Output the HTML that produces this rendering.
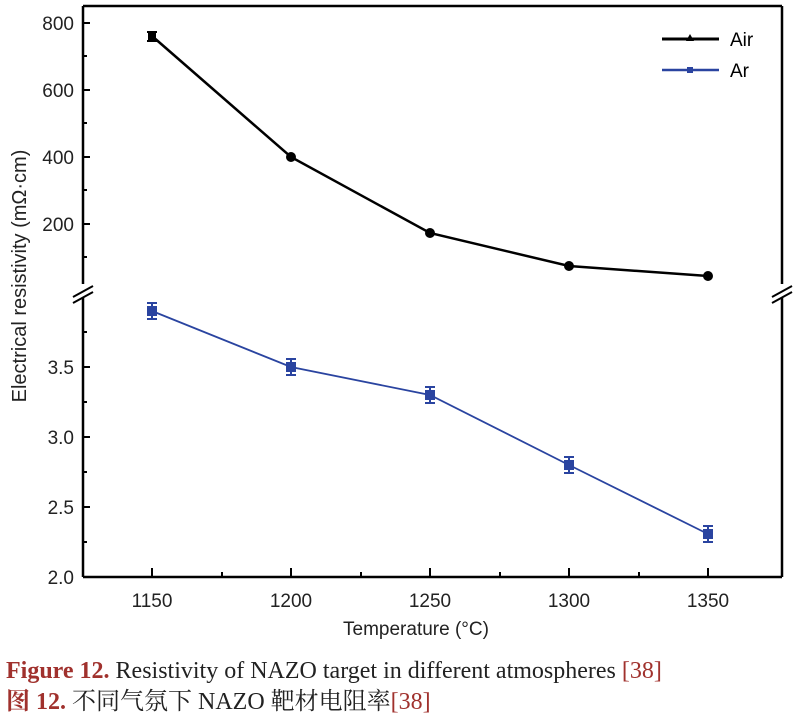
<!DOCTYPE html>
<html><head><meta charset="utf-8"><style>
html,body{margin:0;padding:0;background:#fff;width:795px;height:722px;overflow:hidden}
.cap{position:absolute;left:6px;font-family:"Liberation Serif","Noto Serif CJK SC",serif;font-size:24px;line-height:28px;white-space:nowrap}
</style></head><body>
<svg width="795" height="722" style="position:absolute;left:0;top:0" font-family="Liberation Sans, sans-serif">
<g stroke="#000" stroke-width="2.5" fill="none">
<line x1="83" y1="6" x2="83" y2="284"/><line x1="83" y1="298" x2="83" y2="577"/>
<line x1="83" y1="577" x2="782" y2="577"/>
<line x1="782" y1="6" x2="782" y2="284"/><line x1="782" y1="298" x2="782" y2="577"/>
<line x1="83" y1="6" x2="782" y2="6"/>
</g>
<g stroke="#000" stroke-width="2">
<line x1="73" y1="297" x2="93" y2="286"/><line x1="73" y1="303" x2="93" y2="292"/>
<line x1="772" y1="297" x2="792" y2="286"/><line x1="772" y1="303" x2="792" y2="292"/>
</g>
<g stroke="#000" stroke-width="2">
<line x1="83" y1="23" x2="90" y2="23"/><line x1="83" y1="90" x2="90" y2="90"/><line x1="83" y1="157" x2="90" y2="157"/><line x1="83" y1="224" x2="90" y2="224"/>
<line x1="83" y1="56" x2="87" y2="56"/><line x1="83" y1="123" x2="87" y2="123"/><line x1="83" y1="190" x2="87" y2="190"/><line x1="83" y1="257" x2="87" y2="257"/>
<line x1="83" y1="367" x2="90" y2="367"/><line x1="83" y1="437" x2="90" y2="437"/><line x1="83" y1="507" x2="90" y2="507"/>
<line x1="83" y1="332" x2="87" y2="332"/><line x1="83" y1="402" x2="87" y2="402"/><line x1="83" y1="472" x2="87" y2="472"/><line x1="83" y1="542" x2="87" y2="542"/>
<line x1="152" y1="577" x2="152" y2="568"/><line x1="291" y1="577" x2="291" y2="568"/><line x1="430" y1="577" x2="430" y2="568"/><line x1="569" y1="577" x2="569" y2="568"/><line x1="708" y1="577" x2="708" y2="568"/>
<line x1="222" y1="577" x2="222" y2="572"/><line x1="361" y1="577" x2="361" y2="572"/><line x1="500" y1="577" x2="500" y2="572"/><line x1="639" y1="577" x2="639" y2="572"/>
</g>
<g font-size="19" fill="#222" text-anchor="end">
<text x="74" y="30">800</text><text x="74" y="97">600</text><text x="74" y="164">400</text><text x="74" y="231">200</text>
<text x="74" y="374">3.5</text><text x="74" y="444">3.0</text><text x="74" y="514">2.5</text><text x="74" y="584">2.0</text>
</g>
<g font-size="19" fill="#222" text-anchor="middle">
<text x="152" y="607">1150</text><text x="291" y="607">1200</text><text x="430" y="607">1250</text><text x="569" y="607">1300</text><text x="708" y="607">1350</text>
<text x="416" y="635">Temperature (°C)</text>
</g>
<text transform="translate(26,276) rotate(-90)" font-size="20" fill="#222" text-anchor="middle">Electrical resistivity (mΩ·cm)</text>
<polyline points="152,36 291,157 430,233 569,266 708,276" fill="none" stroke="#000" stroke-width="2.5"/>
<g fill="#000" stroke="#000" stroke-width="2">
<rect x="149" y="34" width="6" height="5"/><line x1="147" y1="32" x2="157" y2="32"/><line x1="147" y1="41" x2="157" y2="41"/>
<circle cx="291" cy="157" r="4"/><circle cx="430" cy="233" r="4"/><circle cx="569" cy="266" r="4"/><circle cx="708" cy="276" r="4"/>
</g>
<polyline points="152,311 291,367 430,395 569,465 708,534" fill="none" stroke="#2a44a0" stroke-width="1.8"/>
<g fill="#2a44a0" stroke="#2a44a0" stroke-width="2">
<g><line x1="147" y1="303" x2="157" y2="303"/><line x1="147" y1="319" x2="157" y2="319"/><line x1="152" y1="303" x2="152" y2="319"/><rect x="148" y="307" width="8" height="8"/></g>
<g><line x1="286" y1="359" x2="296" y2="359"/><line x1="286" y1="375" x2="296" y2="375"/><line x1="291" y1="359" x2="291" y2="375"/><rect x="287" y="363" width="8" height="8"/></g>
<g><line x1="425" y1="387" x2="435" y2="387"/><line x1="425" y1="403" x2="435" y2="403"/><line x1="430" y1="387" x2="430" y2="403"/><rect x="426" y="391" width="8" height="8"/></g>
<g><line x1="564" y1="457" x2="574" y2="457"/><line x1="564" y1="473" x2="574" y2="473"/><line x1="569" y1="457" x2="569" y2="473"/><rect x="565" y="461" width="8" height="8"/></g>
<g><line x1="703" y1="526" x2="713" y2="526"/><line x1="703" y1="542" x2="713" y2="542"/><line x1="708" y1="526" x2="708" y2="542"/><rect x="704" y="530" width="8" height="8"/></g>
</g>
<line x1="662" y1="39" x2="719" y2="39" stroke="#000" stroke-width="3"/>
<polygon points="690,34 686,41 694,41" fill="#000"/>
<text x="730" y="46" font-size="19" fill="#000">Air</text>
<line x1="662" y1="70" x2="719" y2="70" stroke="#2a44a0" stroke-width="2.5"/>
<rect x="687" y="67" width="6" height="6" fill="#2a44a0"/>
<text x="730" y="77" font-size="19" fill="#000">Ar</text>
</svg>
<div class="cap" style="top:657px;color:#a0312d"><b>Figure 12.</b> <span style="color:#222">Resistivity of NAZO target in different atmospheres</span> [38]</div>
<div class="cap" style="top:688px;color:#a0312d"><b>图 12.</b> <span style="color:#222">不同气氛下 NAZO 靶材电阻率</span>[38]</div>
</body></html>
